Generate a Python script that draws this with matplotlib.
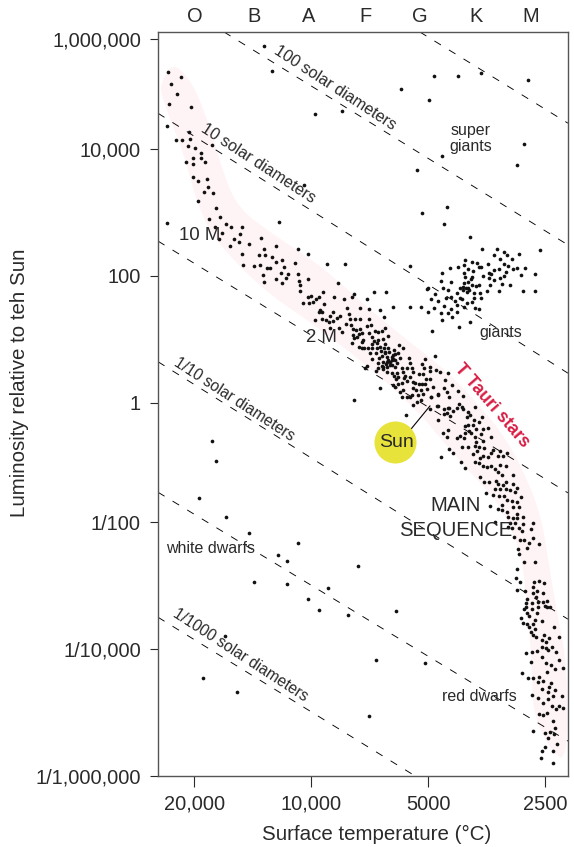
import matplotlib
matplotlib.use("Agg")
import matplotlib.pyplot as plt
import numpy as np

# log10 temperature / log10 luminosity
upper_t = [4.121, 4.100, 4.368, 4.334, 4.360, 4.345, 4.365, 4.309, 3.990, 3.920, 4.370, 4.314, 4.311, 4.347, 4.332,
           4.316, 4.298, 4.255, 4.283, 4.283, 4.304, 4.273, 4.322, 4.304, 4.304, 4.291, 4.267, 4.265, 4.275, 4.252,
           4.291, 4.018, 4.244, 4.082, 4.234, 4.262, 4.219, 4.370, 4.206, 4.178, 4.247, 4.183, 4.229, 4.237, 4.198,
           4.185, 4.208, 4.160, 4.129, 4.090, 4.121, 4.033, 4.008, 4.178, 4.134, 4.118, 4.100, 4.075, 4.090, 4.041,
           3.959, 3.913, 4.175, 4.147, 4.131, 4.069, 4.113, 4.105, 4.124, 4.077, 4.059, 4.033, 4.090, 4.064, 4.031,
           4.008, 4.121, 4.075, 4.028, 3.930]
upper_l = [5.87, 5.42, 5.40, 5.31, 5.18, 5.00, 4.82, 4.76, 4.64, 4.69, 4.42, 4.31, 4.18, 4.16, 4.16,
           4.05, 4.02, 4.07, 3.94, 3.86, 3.86, 3.80, 3.80, 3.76, 3.56, 3.50, 3.53, 3.40, 3.32, 3.31,
           3.18, 3.43, 3.07, 2.85, 2.93, 2.90, 2.82, 2.83, 2.77, 2.77, 2.77, 2.66, 2.68, 2.58, 2.58,
           2.54, 2.47, 2.50, 2.60, 2.47, 2.43, 2.43, 2.35, 2.35, 2.33, 2.33, 2.30, 2.25, 2.22, 2.20,
           2.19, 2.19, 2.17, 2.16, 2.17, 2.14, 2.13, 2.13, 2.02, 2.05, 2.03, 2.03, 1.95, 1.97, 1.92,
           1.95, 1.91, 1.89, 1.86, 1.89]

middle_t = [3.838, 3.807, 3.789, 3.969, 4.028, 4.008, 4.000, 3.979, 3.987, 3.995, 4.005, 4.021, 3.967, 3.941, 3.915,
            3.895, 3.889, 3.856, 3.907, 3.874, 3.851, 3.822, 3.812, 3.977, 3.979, 3.972, 3.943, 3.951, 3.925, 3.933,
            3.990, 3.972, 3.961, 3.954, 3.943, 3.902, 3.900, 3.887, 3.874, 3.851, 3.910, 3.897, 3.951, 3.928, 3.920,
            3.892, 3.884, 3.874, 3.856, 3.846, 3.810, 3.869, 3.877, 3.892, 3.882, 3.889, 3.851, 3.835, 3.828, 3.817,
            3.802, 3.843, 3.838, 3.828, 3.815, 3.866, 3.869, 3.895, 3.843, 3.830, 3.810, 3.774, 3.877, 3.869, 3.864,
            3.853, 3.843, 3.830, 3.812, 3.802, 3.763, 3.786, 3.776, 3.799, 3.810, 3.784, 3.848, 3.817, 3.804, 3.792,
            3.771, 3.681, 3.843, 3.825, 3.802, 3.789, 3.748, 3.707, 3.815, 3.797, 3.779, 3.745, 3.828, 3.807, 3.792,
            3.714, 3.856, 3.861, 3.817, 3.828, 3.833, 3.815, 3.804, 3.784, 3.766, 3.753, 3.740, 3.694, 3.709, 3.804,
            3.792, 3.779, 3.763, 3.738, 3.694, 3.678, 3.668, 3.647, 3.722, 3.712, 3.758, 3.776, 3.745, 3.786, 3.738,
            3.781, 3.753, 3.761, 3.694, 3.704, 3.766, 3.776, 3.789, 3.732, 3.722, 3.714, 3.707, 3.686, 3.655, 3.822,
            3.889, 3.784, 3.738, 3.730, 3.717, 3.702, 3.771, 3.763, 3.712, 3.725, 3.691, 3.673, 3.650, 3.766, 3.753,
            3.740, 3.745, 3.717, 3.727, 3.738, 3.676, 3.756, 3.650, 3.673, 3.645, 3.810, 3.792, 3.804, 3.797, 3.815,
            3.789, 3.820, 3.784, 3.833, 3.822]
middle_l = [1.75, 1.75, 1.51, 1.75, 1.76, 1.67, 1.69, 1.67, 1.64, 1.59, 1.57, 1.57, 1.56, 1.67, 1.64,
            1.67, 1.72, 1.64, 1.50, 1.50, 1.48, 1.46, 1.35, 1.46, 1.43, 1.43, 1.43, 1.37, 1.37, 1.34,
            1.31, 1.32, 1.31, 1.28, 1.29, 1.40, 1.32, 1.32, 1.32, 1.32, 1.24, 1.23, 1.18, 1.18, 1.12,
            1.17, 1.15, 1.17, 1.21, 1.23, 1.18, 1.10, 1.09, 1.07, 1.04, 1.02, 1.10, 1.13, 1.12, 1.13,
            1.06, 1.04, 0.98, 0.99, 1.01, 0.99, 0.96, 0.94, 0.93, 0.94, 0.93, 0.91, 0.88, 0.87, 0.87,
            0.87, 0.87, 0.87, 0.87, 0.87, 0.87, 0.83, 0.79, 0.80, 0.79, 0.77, 0.79, 0.74, 0.72, 0.72,
            0.71, 0.74, 0.69, 0.71, 0.68, 0.69, 0.71, 0.69, 0.65, 0.65, 0.63, 0.63, 0.63, 0.61, 0.60,
            0.61, 0.58, 0.55, 0.58, 0.55, 0.50, 0.54, 0.57, 0.57, 0.55, 0.55, 0.55, 0.57, 0.55, 0.49,
            0.47, 0.47, 0.49, 0.49, 0.50, 0.52, 0.49, 0.47, 0.46, 0.46, 0.43, 0.41, 0.41, 0.43, 0.33,
            0.38, 0.35, 0.39, 0.38, 0.38, 0.32, 0.30, 0.28, 0.32, 0.30, 0.30, 0.30, 0.25, 0.36, 0.24,
            0.05, 0.25, 0.24, 0.20, 0.20, 0.22, 0.17, 0.20, 0.14, 0.13, 0.09, 0.14, 0.17, 0.09, 0.09,
            0.13, 0.09, 0.05, 0.02, -0.03, -0.05, -0.20, -0.17, -0.29, -0.08, 0.80, 0.68, 0.65, 0.60, 0.57,
            0.76, 0.82, 0.68, 0.79, 0.88]

lower_t = [3.637, 3.658, 3.622, 3.673, 3.645, 3.609, 3.691, 3.619, 3.578, 3.611, 3.609, 3.624, 3.647, 3.658, 3.635,
           3.673, 3.694, 3.658, 3.642, 3.596, 3.591, 3.599, 3.560, 3.581, 3.568, 3.596, 3.604, 3.583, 3.545, 3.557,
           3.575, 3.593, 3.604, 3.588, 3.647, 3.660, 3.650, 3.624, 3.617, 3.606, 3.563, 3.578, 3.537, 3.557, 3.575,
           3.611, 3.596, 3.578, 3.568, 3.555, 3.532, 3.514, 3.496, 3.573, 3.583, 3.645, 3.635, 3.666, 3.537, 3.545,
           3.557, 3.519, 3.506, 3.565, 3.578, 3.614, 3.568, 3.604, 3.557, 3.547, 3.537, 3.514, 3.498, 3.527, 3.519,
           3.509, 3.480, 3.565, 3.555, 3.542, 3.524, 3.498, 3.506, 3.480, 3.470, 3.519, 3.527, 3.514, 3.498, 3.488,
           3.475, 3.550, 3.532, 3.516, 3.503, 3.460, 3.496, 3.483, 3.470, 3.509, 3.539, 3.480, 3.465, 3.519, 3.509,
           3.496, 3.470, 3.480, 3.470, 3.493, 3.455, 3.527, 3.488, 3.475, 3.455, 3.429, 3.493, 3.483, 3.465, 3.434,
           3.457, 3.478, 3.462, 3.452, 3.429, 3.439, 3.413, 3.467, 3.444, 3.465, 3.452, 3.424, 3.470]
lower_l = [0.28, 0.24, 0.19, 0.13, 0.09, 0.11, 0.09, -0.02, -0.07, -0.07, -0.10, -0.08, -0.08, -0.10, -0.13,
           -0.05, -0.10, -0.18, -0.22, -0.15, -0.20, -0.24, -0.24, -0.29, -0.32, -0.37, -0.39, -0.37, -0.42, -0.44,
           -0.44, -0.47, -0.50, -0.50, -0.45, -0.50, -0.57, -0.59, -0.55, -0.59, -0.52, -0.57, -0.57, -0.64, -0.66,
           -0.74, -0.74, -0.72, -0.74, -0.76, -0.79, -0.81, -0.84, -0.81, -0.86, -0.77, -0.84, -0.91, -0.84, -0.91,
           -0.89, -0.89, -0.89, -0.92, -0.99, -0.99, -1.01, -1.09, -1.06, -1.08, -1.06, -1.04, -1.06, -1.11, -1.16,
           -1.21, -1.21, -1.24, -1.33, -1.33, -1.31, -1.33, -1.38, -1.36, -1.43, -1.36, -1.44, -1.44, -1.44, -1.46,
           -1.50, -1.51, -1.55, -1.56, -1.56, -1.58, -1.63, -1.65, -1.66, -1.71, -1.73, -1.75, -1.75, -1.78, -1.80,
           -1.83, -1.87, -1.93, -1.93, -1.92, -1.92, -2.00, -2.02, -2.02, -2.03, -2.02, -2.08, -2.09, -2.09, -2.11,
           -2.14, -2.24, -2.28, -2.28, -2.25, -2.33, -2.35, -2.43, -2.41, -2.50, -2.63, -2.63, -2.74]

red_dwarf_t = [3.473, 3.462, 3.429, 3.426, 3.413, 3.401, 3.470, 3.449, 3.418, 3.429, 3.403, 3.421, 3.444, 3.416, 3.403,
               3.393, 3.447, 3.431, 3.398, 3.385, 3.393, 3.416, 3.447, 3.452, 3.431, 3.444, 3.418, 3.439, 3.460, 3.424,
               3.406, 3.455, 3.444, 3.429, 3.439, 3.424, 3.375, 3.434, 3.429, 3.421, 3.401, 3.362, 3.388, 3.406, 3.395,
               3.406, 3.395, 3.380, 3.390, 3.370, 3.447, 3.431, 3.418, 3.406, 3.434, 3.362, 3.395, 3.382, 3.372, 3.352,
               3.393, 3.457, 3.442, 3.429, 3.413, 3.403, 3.416, 3.382, 3.388, 3.372, 3.406, 3.390, 3.431, 3.416, 3.390,
               3.403, 3.377, 3.354, 3.380, 3.370, 3.362, 3.352, 3.393, 3.413, 3.403, 3.377, 3.372, 3.429, 3.398, 3.385,
               3.375, 3.390, 3.367, 3.398, 3.406, 3.377, 3.408, 3.377]
red_dwarf_l = [-2.88, -2.94, -3.02, -2.94, -2.93, -2.96, -3.07, -3.09, -3.09, -3.12, -3.12, -3.18, -3.21, -3.26, -3.26,
               -3.24, -3.28, -3.28, -3.32, -3.34, -3.34, -3.34, -3.34, -3.37, -3.37, -3.43, -3.43, -3.48, -3.51, -3.54,
               -3.56, -3.59, -3.61, -3.61, -3.65, -3.69, -3.65, -3.73, -3.78, -3.81, -3.78, -3.81, -3.83, -3.86, -3.89,
               -3.97, -3.98, -3.97, -4.02, -4.05, -4.06, -4.05, -4.03, -4.13, -4.20, -4.17, -4.22, -4.25, -4.32, -4.30,
               -4.36, -4.38, -4.46, -4.46, -4.44, -4.50, -4.52, -4.54, -4.60, -4.65, -4.63, -4.68, -4.73, -4.77, -4.79,
               -4.85, -4.74, -4.74, -4.90, -4.95, -4.90, -4.93, -5.00, -5.03, -5.04, -5.13, -5.24, -5.29, -5.32, -5.30,
               -5.34, -5.40, -5.50, -5.54, -5.60, -5.60, -5.72, -5.79]

white_dwarf_t = [4.255, 4.244, 4.288, 4.219, 4.160, 4.033, 4.085, 4.062, 4.147, 4.062, 3.956, 4.008, 3.979, 3.781,
                 3.905, 3.879, 3.833, 4.221, 4.278, 4.190, 3.851, 3.707]
white_dwarf_l = [-0.64, -0.98, -1.60, -1.92, -2.17, -2.33, -2.52, -2.61, -2.94, -2.98, -3.04, -3.21, -3.39, -3.40,
                 -3.46, -2.69, -4.17, -3.80, -4.46, -4.67, -5.05, -4.22]

giant_t = [3.684, 3.622, 3.563, 3.442, 3.768, 3.696, 3.452, 3.663, 3.727, 3.470, 3.650, 3.714, 3.658, 3.591, 3.560,
           3.521, 3.503, 3.496, 3.529, 3.465, 3.411, 3.514, 3.483, 3.604, 3.586, 3.573, 3.503, 3.606, 3.545, 3.493,
           3.563, 3.568, 3.622, 3.642, 3.596, 3.583, 3.606, 3.516, 3.529, 3.542, 3.537, 3.480, 3.470, 3.449, 3.663,
           3.745, 3.460, 3.424, 3.498, 3.503, 3.514, 3.557, 3.586, 3.588, 3.604, 3.529, 3.542, 3.666, 3.640, 3.596,
           3.606, 3.568, 3.575, 3.586, 3.509, 3.488, 3.540, 3.699, 3.660, 3.609, 3.596, 3.702, 3.647, 3.617, 3.601,
           3.624, 3.599, 3.609, 3.593, 3.581, 3.565, 3.547, 3.516, 3.455, 3.424, 3.681, 3.640, 3.653, 3.617, 3.611,
           3.581, 3.563, 3.691, 3.673, 3.629, 3.599, 3.586, 3.658, 3.624, 3.578, 3.568, 3.606, 3.745, 3.717, 3.684,
           3.699, 3.666, 3.640, 3.647, 3.624, 3.637, 3.663, 3.591, 3.619, 3.689]
giant_l = [5.33, 5.33, 5.38, 5.25, 5.09, 4.89, 4.09, 3.89, 3.67, 3.75, 3.09, 2.99, 2.82, 2.61, 2.43,
           2.43, 2.38, 2.33, 2.33, 2.35, 2.41, 2.27, 2.27, 2.25, 2.22, 2.20, 2.19, 2.17, 2.19, 2.16,
           2.14, 2.14, 2.14, 2.13, 2.11, 2.08, 2.05, 2.11, 2.09, 2.05, 2.03, 2.11, 2.13, 2.13, 2.05,
           2.16, 2.02, 2.03, 2.06, 2.00, 1.97, 2.00, 1.98, 1.95, 1.98, 1.94, 1.97, 1.92, 1.91, 1.91,
           1.89, 1.86, 1.84, 1.86, 1.87, 1.86, 1.86, 1.81, 1.81, 1.83, 1.81, 1.80, 1.78, 1.81, 1.81,
           1.73, 1.75, 1.78, 1.78, 1.73, 1.73, 1.76, 1.76, 1.76, 1.76, 1.72, 1.67, 1.65, 1.65, 1.64,
           1.65, 1.65, 1.64, 1.61, 1.61, 1.57, 1.59, 1.53, 1.54, 1.50, 1.48, 1.51, 1.51, 1.51, 1.50,
           1.43, 1.42, 1.48, 1.42, 1.43, 1.35, 1.31, 1.28, 1.20, 1.13]

band_t = [4.355, 4.304, 4.260, 4.229, 4.190, 4.113, 3.985, 3.925, 3.797, 3.642, 3.532, 3.470, 3.411, 3.385, 3.367,
          3.341, 3.340, 3.385, 3.429, 3.431, 3.449, 3.467, 3.514, 3.573, 3.642, 3.727, 3.841, 4.003, 4.105, 4.196,
          4.278, 4.329, 4.389, 4.383]
band_l = [5.58, 5.20, 4.40, 3.67, 3.09, 2.72, 2.20, 1.89, 1.20, 0.47, -0.29, -0.91, -1.80, -2.76, -3.43,
          -4.22, -5.80, -5.59, -5.01, -4.33, -2.91, -2.36, -1.71, -1.29, -0.79, -0.12, 0.52, 1.28, 1.70, 2.22,
          2.83, 3.94, 5.02, 5.25]

# constant radius lines, start and end
radius_t0 = [3.720, 4.224, 4.394, 4.394, 4.394, 4.394, 4.394]
radius_l0 = [6.13, 6.13, 4.65, 2.55, 0.65, -1.50, -3.50]
radius_t1 = [3.339, 3.339, 3.339, 3.339, 3.339, 3.339, 3.732]
radius_l1 = [4.47, 2.49, 0.47, -1.51, -3.53, -5.45, -6.00]

sun_t, sun_l = 3.784, -0.66
sun_leader_t = [3.743, 3.694]
sun_leader_l = [-0.44, -0.05]

temp_values = [20000, 10000, 5000, 2500]
temp_labels = ["20,000", "10,000", "5000", "2500"]
lum_ticks = [6, 4, 2, 0, -2, -4, -6]
lum_labels = ["1,000,000", "10,000", "100", "1", "1/100", "1/10,000", "1/1,000,000"]
spectral = ["O", "B", "A", "F", "G", "K", "M"]
spectral_x = [195, 254, 309, 365, 420, 476, 531]

# the printed luminosity axis is not evenly spaced
lum_knots = [-6, -4, -2, 0, 2, 4, 6, 6.13]
lum_heights = [0, 127, 254, 373, 500, 627, 737, 744]

W, H = 574, 847
INK = "#2a2a2a"

plt.rcParams["font.family"] = ["Liberation Sans", "DejaVu Sans"]
plt.rcParams["lines.scale_dashes"] = False

fig = plt.figure(figsize=(W / 100, H / 100), dpi=100)
ax = fig.add_axes([158 / W, 1 - 776 / H, (567.5 - 158) / W, (776 - 32) / H])


def lum_forward(v):
    return np.interp(v, lum_knots, lum_heights)


def lum_inverse(v):
    return np.interp(v, lum_heights, lum_knots)


def rounded(xs, ys, passes=3):
    # corner cutting, so the band outline has no kinks
    pts = np.column_stack([xs, ys])
    for _ in range(passes):
        nxt = np.roll(pts, -1, axis=0)
        pts = np.column_stack([0.75 * pts + 0.25 * nxt, 0.25 * pts + 0.75 * nxt]).reshape(-1, 2)
    return pts[:, 0], pts[:, 1]


ax.set_yscale("function", functions=(lum_forward, lum_inverse))
ax.set_xlim(4.394, 3.340)
ax.set_ylim(-6, 6.13)

band_x, band_y = rounded(band_t, band_l)
ax.fill(band_x, band_y, color="#fff4f5", lw=0, zorder=1)

for i in range(len(radius_t0)):
    ax.plot([radius_t0[i], radius_t1[i]], [radius_l0[i], radius_l1[i]], color="black", lw=0.65,
            ls=(0, (5.5, 6.8)), zorder=2)

for ts, ls in [(upper_t, upper_l), (middle_t, middle_l), (lower_t, lower_l), (red_dwarf_t, red_dwarf_l),
               (white_dwarf_t, white_dwarf_l), (giant_t, giant_l)]:
    ax.scatter(ts, ls, s=7, color="#111111", lw=0, zorder=3)

ax.plot(sun_leader_t, sun_leader_l, color="black", lw=0.8, zorder=3)
ax.scatter([sun_t], [sun_l], s=915, color="#e8e33a", lw=0, zorder=4)

ax.set_xticks(np.log10(temp_values), temp_labels)
ax.set_yticks(lum_ticks, lum_labels)
ax.tick_params(axis="x", length=7.9, width=0.8, pad=5.5, labelsize=14.4, colors=INK)
ax.tick_params(axis="y", length=5.8, width=0.8, pad=6.5, labelsize=14.4, colors=INK)
ax.minorticks_off()
for side in ax.spines.values():
    side.set_color("#555555")
    side.set_linewidth(1.0)


def label(x, y, text, size=11.5, rot=0, **kw):
    kw.setdefault("color", INK)
    fig.text(x / W, 1 - y / H, text, fontsize=size, rotation=rot, rotation_mode="anchor",
             ha="center", va="center", zorder=6, **kw)


for name, x in zip(spectral, spectral_x):
    label(x, 17, name, size=14.4)

label(377, 834, "Surface temperature (°C)", size=14.8)
label(20, 383, "Luminosity relative to teh Sun", size=14.8, rot=90)

label(335, 88, "100 solar diameters", size=11.6, rot=-33)
label(258, 163, "10 solar diameters", size=11.6, rot=-33)
label(234, 399, "1/10 solar diameters", size=11.2, rot=-33)
label(240, 655, "1/1000 solar diameters", size=11.2, rot=-33)

label(200, 236, "10 M", size=13.4)
label(321, 338, "2 M", size=13.4)
label(471, 130, "super", size=11.5)
label(471, 146, "giants", size=11.5)
label(501, 333, "giants", size=11.5)
label(492, 406, "T Tauri stars", size=12.7, rot=-49, color="#d81e45", fontweight="bold")
label(456, 505, "MAIN", size=14.6)
label(456, 530, "SEQUENCE", size=14.6)
label(211, 548, "white dwarfs", size=11.5)
label(479, 696, "red dwarfs", size=11.5)
label(396, 442, "Sun", size=14)

fig.savefig("out.png", dpi=100)
